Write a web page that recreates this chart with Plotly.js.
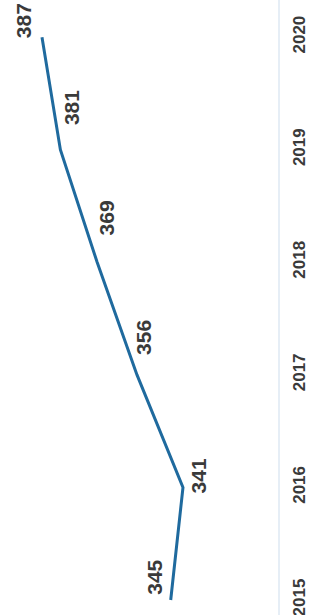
<!DOCTYPE html>
<html>
<head>
<meta charset="utf-8">
<script src="https://cdn.plot.ly/plotly-3.0.1.min.js"></script>
<style>html,body{margin:0;padding:0;background:#fff;}#chart{width:311px;height:615px;}</style>
</head>
<body>
<div id="chart"></div>
<script>
const years = ['2015', '2016', '2017', '2018', '2019', '2020'];
const values = [345, 341, 356, 369, 381, 387];
const labels = ['345', '341', '356', '369', '381', '387'];

// label offsets in pixels (style only)
const shiftX = [-17, 15, 7, 9, 11, -19];
const shiftY = [23, 12, 37, 44, 42, 17];

const trace = {
  type: 'scatter',
  mode: 'lines',
  x: values,
  y: years,
  line: {color: '#1f6a9e', width: 3},
  hoverinfo: 'skip'
};

// category axis: annotation y uses the category's serial number
const annotations = values.map((v, i) => ({
  x: v, y: years.indexOf(years[i]), xref: 'x', yref: 'y',
  text: labels[i], showarrow: false, textangle: -90,
  xshift: shiftX[i], yshift: shiftY[i],
  font: {family: 'Liberation Sans, Arial, sans-serif', size: 21, weight: 'bold', color: '#3a3a3a'}
}));

const layout = {
  width: 311, height: 615,
  margin: {l: 0, r: 33, t: 0, b: 0},
  paper_bgcolor: '#ffffff', plot_bgcolor: '#ffffff',
  showlegend: false,
  xaxis: {range: [400.7, 310], showgrid: false, zeroline: false, showticklabels: false, showline: false},
  yaxis: {
    type: 'category', side: 'right', range: [-0.133, 5.33],
    showgrid: false, zeroline: false, showline: true, linecolor: '#e6eef6', linewidth: 2,
    ticks: '', tickangle: -90, ticklabelstandoff: 5,
    tickfont: {family: 'Liberation Sans, Arial, sans-serif', size: 17, weight: 'bold', color: '#3a3a3a'}
  },
  annotations: annotations
};

Plotly.newPlot('chart', [trace], layout, {displayModeBar: false, staticPlot: true});
</script>
</body>
</html>
